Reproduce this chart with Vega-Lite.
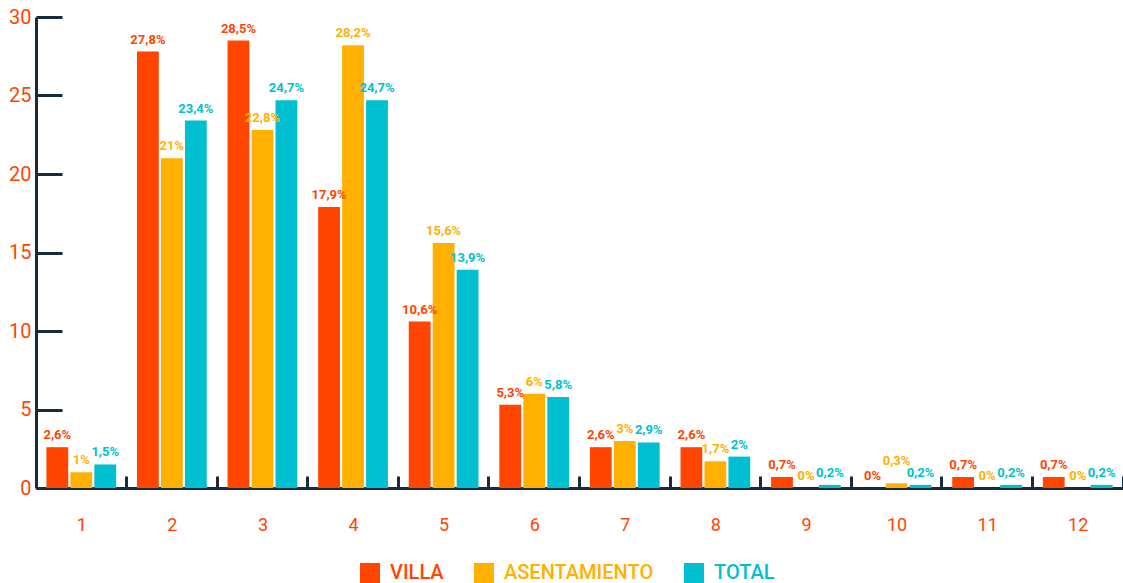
{
  "$schema": "https://vega.github.io/schema/vega-lite/v6.json",
  "autosize": {"type": "none"},
  "padding": {"left": 36, "top": 17, "right": 0, "bottom": 95},
  "width": 1087,
  "height": 471,
  "background": "white",
  "config": {
    "font": "Roboto",
    "view": {"stroke": null}
  },
  "data": {
    "values": [
      {"g": "1", "serie": "VILLA", "v": 2.6, "label": "2,6%"},
      {"g": "1", "serie": "ASENTAMIENTO", "v": 1.0, "label": "1%"},
      {"g": "1", "serie": "TOTAL", "v": 1.5, "label": "1,5%"},
      {"g": "2", "serie": "VILLA", "v": 27.8, "label": "27,8%"},
      {"g": "2", "serie": "ASENTAMIENTO", "v": 21.0, "label": "21%"},
      {"g": "2", "serie": "TOTAL", "v": 23.4, "label": "23,4%"},
      {"g": "3", "serie": "VILLA", "v": 28.5, "label": "28,5%"},
      {"g": "3", "serie": "ASENTAMIENTO", "v": 22.8, "label": "22,8%"},
      {"g": "3", "serie": "TOTAL", "v": 24.7, "label": "24,7%"},
      {"g": "4", "serie": "VILLA", "v": 17.9, "label": "17,9%"},
      {"g": "4", "serie": "ASENTAMIENTO", "v": 28.2, "label": "28,2%"},
      {"g": "4", "serie": "TOTAL", "v": 24.7, "label": "24,7%"},
      {"g": "5", "serie": "VILLA", "v": 10.6, "label": "10,6%"},
      {"g": "5", "serie": "ASENTAMIENTO", "v": 15.6, "label": "15,6%"},
      {"g": "5", "serie": "TOTAL", "v": 13.9, "label": "13,9%"},
      {"g": "6", "serie": "VILLA", "v": 5.3, "label": "5,3%"},
      {"g": "6", "serie": "ASENTAMIENTO", "v": 6.0, "label": "6%"},
      {"g": "6", "serie": "TOTAL", "v": 5.8, "label": "5,8%"},
      {"g": "7", "serie": "VILLA", "v": 2.6, "label": "2,6%"},
      {"g": "7", "serie": "ASENTAMIENTO", "v": 3.0, "label": "3%"},
      {"g": "7", "serie": "TOTAL", "v": 2.9, "label": "2,9%"},
      {"g": "8", "serie": "VILLA", "v": 2.6, "label": "2,6%"},
      {"g": "8", "serie": "ASENTAMIENTO", "v": 1.7, "label": "1,7%"},
      {"g": "8", "serie": "TOTAL", "v": 2.0, "label": "2%"},
      {"g": "9", "serie": "VILLA", "v": 0.7, "label": "0,7%"},
      {"g": "9", "serie": "ASENTAMIENTO", "v": 0, "label": "0%"},
      {"g": "9", "serie": "TOTAL", "v": 0.2, "label": "0,2%"},
      {"g": "10", "serie": "VILLA", "v": 0, "label": "0%"},
      {"g": "10", "serie": "ASENTAMIENTO", "v": 0.3, "label": "0,3%"},
      {"g": "10", "serie": "TOTAL", "v": 0.2, "label": "0,2%"},
      {"g": "11", "serie": "VILLA", "v": 0.7, "label": "0,7%"},
      {"g": "11", "serie": "ASENTAMIENTO", "v": 0, "label": "0%"},
      {"g": "11", "serie": "TOTAL", "v": 0.2, "label": "0,2%"},
      {"g": "12", "serie": "VILLA", "v": 0.7, "label": "0,7%"},
      {"g": "12", "serie": "ASENTAMIENTO", "v": 0, "label": "0%"},
      {"g": "12", "serie": "TOTAL", "v": 0.2, "label": "0,2%"}
    ]
  },
  "encoding": {
    "x": {
      "field": "g", "type": "ordinal", "sort": null,
      "scale": {"paddingInner": 0.23, "paddingOuter": 0.115},
      "axis": {
        "title": null, "labelAngle": 0, "labelFontSize": 18, "labelColor": "#FF4500",
        "labelPadding": 40, "domainColor": "#172B3A", "domainWidth": 3,
        "tickColor": "#172B3A", "tickWidth": 3, "tickSize": -12,
        "bandPosition": 1, "tickExtra": false, "tickOffset": 10, "labelOffset": -10,
        "grid": false
      }
    },
    "xOffset": {
      "field": "serie", "type": "nominal",
      "sort": ["VILLA", "ASENTAMIENTO", "TOTAL"],
      "scale": {"paddingInner": 0.09, "paddingOuter": 0}
    },
    "y": {
      "field": "v", "type": "quantitative",
      "scale": {"domain": [0, 30], "nice": false},
      "axis": {
        "title": null, "values": [0, 5, 10, 15, 20, 25, 30], "labelFontSize": 20,
        "labelColor": "#FF4500", "labelPadding": 31, "domainColor": "#172B3A",
        "domainWidth": 3, "tickColor": "#172B3A", "tickWidth": 3, "tickSize": -26,
        "grid": false
      }
    },
    "color": {
      "field": "serie", "type": "nominal",
      "sort": ["VILLA", "ASENTAMIENTO", "TOTAL"],
      "scale": {"domain": ["VILLA", "ASENTAMIENTO", "TOTAL"], "range": ["#FF4500", "#FFB000", "#00BFD0"]},
      "legend": {
        "title": null, "orient": "none", "direction": "horizontal",
        "legendX": 324, "legendY": 546, "symbolType": "square", "symbolSize": 400,
        "symbolStrokeWidth": 0, "symbolOpacity": 1, "labelFontSize": 20, "labelFontWeight": 500,
        "labelOffset": 10, "columnPadding": 30,
        "encode": {"labels": {"update": {"fill": {"scale": "color", "field": "value"}}}}
      }
    }
  },
  "layer": [
    {"mark": {"type": "bar"}},
    {
      "transform": [{"filter": "!(datum.g === '10' && datum.serie === 'ASENTAMIENTO')"}],
      "mark": {"type": "text", "fontSize": 13, "fontWeight": "bold", "baseline": "alphabetic", "dy": -8},
      "encoding": {"text": {"field": "label"}}
    },
    {
      "transform": [{"filter": "datum.g === '10' && datum.serie === 'ASENTAMIENTO'"}],
      "mark": {"type": "text", "fontSize": 13, "fontWeight": "bold", "baseline": "alphabetic", "dy": -18},
      "encoding": {"text": {"field": "label"}}
    }
  ]
}
